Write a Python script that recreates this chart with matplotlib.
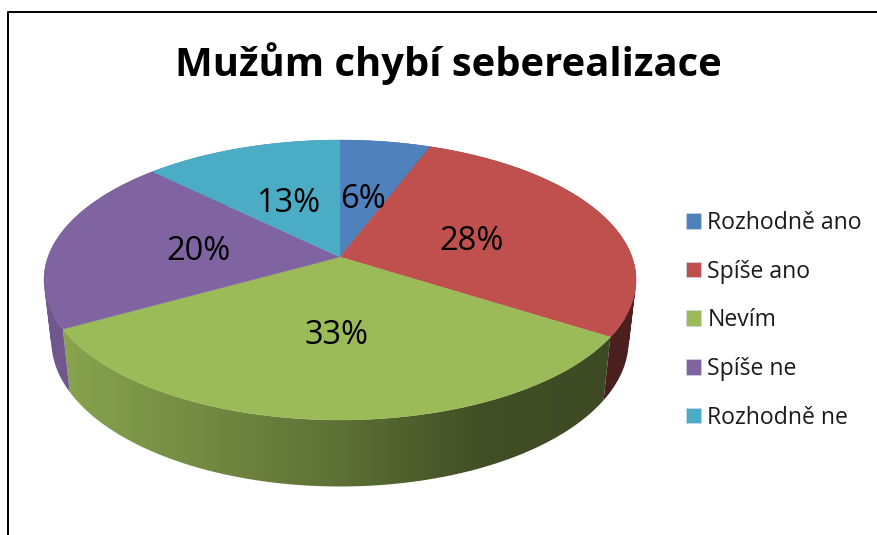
import numpy as np
import matplotlib
matplotlib.use("Agg")
import matplotlib.pyplot as plt
from matplotlib.patches import Polygon, Patch, PathPatch
from matplotlib.path import Path

title = "Mužům chybí seberealizace"
categories = ["Rozhodně ano", "Spíše ano", "Nevím", "Spíše ne", "Rozhodně ne"]
values = [5.8, 28.2, 32.9, 20.4, 12.7]
colors = ["#4f81bd", "#c0504d", "#9bbb59", "#8064a2", "#4bacc6"]

plt.rcParams['font.family'] = ['Open Sans', 'DejaVu Sans']

# perspective of the pie, in pixels
cx, cy = 340.0, 257.0
c = 46.0 / 280.0
a = 136.2
d = 292.0


def top_xy(t):
    u, v = np.sin(t), np.cos(t)
    w = 1 + c * v
    return cx + d * u / w, cy - a * v / w


def bottom_xy(t):
    x, y = top_xy(t)
    return cx + (x - cx) * 0.975, cy + (y - cy) * 1.04 + 60


fig = plt.figure(figsize=(8.77, 5.35), dpi=100)
ax = fig.add_axes([0, 0, 1, 1])
ax.axis("off")

# frame of the chart, only top and left show
ax.plot([7.5, 7.5, 877], [535, 11.5, 11.5], color="black", lw=1.4, zorder=1)

edges = np.cumsum([0] + values) / sum(values) * 2 * np.pi

# side wall, horizontal gradient clipped to each slice
grad_x = np.linspace(30, 650, 620)
grad = np.interp(grad_x, [60, 340, 480, 640], [0.88, 0.6, 0.42, 0.39])
for i in range(len(values)):
    ts = np.linspace(edges[i], edges[i + 1], 200)
    xt, yt = top_xy(ts)
    xb, yb = bottom_xy(ts)
    quads = []
    for j in range(len(ts) - 1):
        q = [(xt[j], yt[j]), (xt[j + 1], yt[j + 1]), (xb[j + 1], yb[j + 1]), (xb[j], yb[j])]
        qa = np.array(q)
        area = np.sum(qa[:, 0] * np.roll(qa[:, 1], -1) - np.roll(qa[:, 0], -1) * qa[:, 1])
        quads.append(q if area > 0 else q[::-1])
    wall = PathPatch(Path.make_compound_path_from_polys(np.array(quads)),
                     facecolor="none", edgecolor="none")
    ax.add_patch(wall)
    base = np.array(matplotlib.colors.to_rgb(colors[i]))
    img = base[None, None, :] * grad[None, :, None]
    im = ax.imshow(img, extent=(30, 650, 500, 130), aspect="auto", zorder=2,
                   interpolation="bilinear")
    im.set_clip_path(wall)

# top face
for i in range(len(values)):
    ts = np.linspace(edges[i], edges[i + 1], 200)
    x, y = top_xy(ts)
    pts = np.column_stack([np.append(cx, x), np.append(cy, y)])
    ax.add_patch(Polygon(pts, closed=True, facecolor=colors[i], edgecolor=colors[i],
                         lw=0.3, zorder=3))

ax.set_xlim(0, 877)
ax.set_ylim(535, 0)

# percent labels
label_pos = [(363, 200), (472, 241), (337, 335), (198, 252), (288, 204)]
for v, (lx, ly) in zip(values, label_pos):
    ax.text(lx, ly, "{:.0f}%".format(v), fontsize=23.5, ha="center", va="center",
            color="black", zorder=4)

ax.text(448, 64, title, fontsize=28.8, fontweight="bold", ha="center", va="center",
        color="black")

handles = [Patch(facecolor=col, edgecolor="#ccd6e4", lw=0.5) for col in colors]
ax.legend(handles, categories, loc="upper left", bbox_to_anchor=(686 / 877, 1 - 211 / 535),
          frameon=False, fontsize=16.6, labelspacing=1.07, handlelength=0.66,
          handleheight=0.66, handletextpad=0.27, borderpad=0, borderaxespad=0,
          labelcolor="#1a1a1a")

plt.savefig("out.png", dpi=100)
